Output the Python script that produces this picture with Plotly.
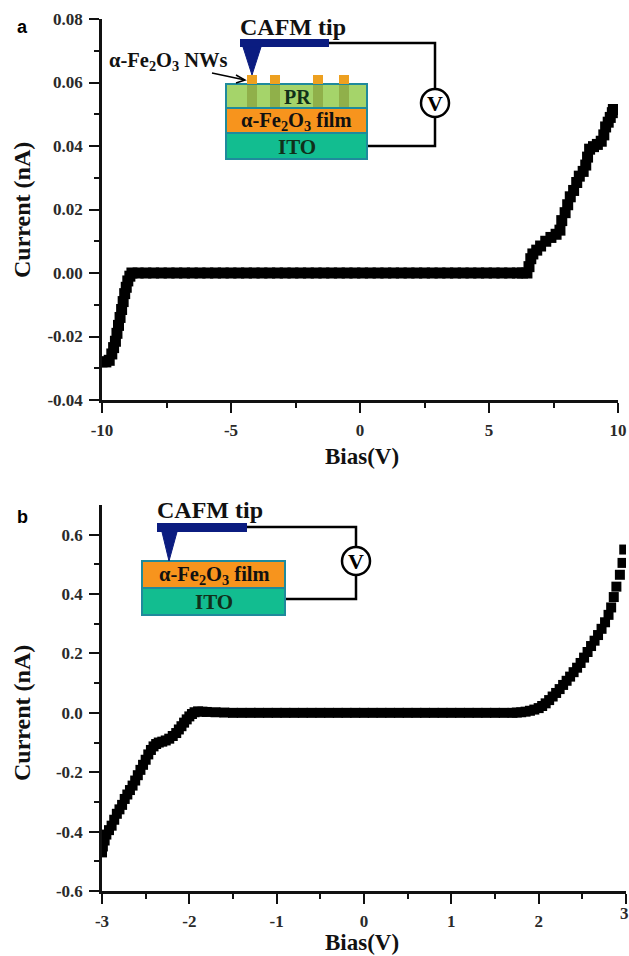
import plotly.graph_objects as go

W, H = 629, 956

# Panel a data
a_bias = [-10, -9.85, -9.72, -9.62, -9.55, -9.48, -9.42, -9.36, -9.3, -9.24, -9.18, -9.12, -9.06, -9.0, -8.92, -8.84,
          -8.6, -8.3, -8.0, -7.7, -7.4, -7.1, -6.8, -6.5, -6.2, -5.9, -5.6, -5.3, -5.0, -4.7, -4.4, -4.1, -3.8, -3.5,
          -3.2, -2.9, -2.6, -2.3, -2.0, -1.7, -1.4, -1.1, -0.8, -0.5, -0.2, 0.1, 0.4, 0.7, 1.0, 1.3, 1.6, 1.9, 2.2,
          2.5, 2.8, 3.1, 3.4, 3.7, 4.0, 4.3, 4.6, 4.9, 5.2, 5.5, 5.8, 6.1, 6.3, 6.47,
          6.55, 6.62, 6.7, 6.85, 7.0, 7.2, 7.4, 7.6, 7.75, 7.82, 7.95, 8.05, 8.15, 8.28, 8.4, 8.5, 8.65, 8.75, 8.82,
          8.9, 9.05, 9.2, 9.35, 9.45, 9.52, 9.62, 9.7, 9.78, 9.82]
a_current = [-.028, -.028, -.0275, -.0255, -.0235, -.0215, -.019, -.0165, -.014, -.0115, -.009, -.0065, -.0045, -.0025, -.001, 0,
             0, 0, 0, 0, 0, 0, 0, 0, 0, 0, 0, 0, 0, 0, 0, 0, 0, 0,
             0, 0, 0, 0, 0, 0, 0, 0, 0, 0, 0, 0, 0, 0, 0, 0, 0, 0, 0,
             0, 0, 0, 0, 0, 0, 0, 0, 0, 0, 0, 0, 0, 0, 0,
             .002, .0045, .006, .0072, .0085, .0100, .0112, .0122, .0135, .0165, .019, .0215, .024, .026, .0285, .0305, .032, .034, .0365,
             .039, .0398, .0405, .0415, .0435, .046, .0475, .049, .0505, .0515]

# Panel b data
b_bias = [-3.0, -2.99, -2.97, -2.95, -2.92, -2.89, -2.86, -2.83, -2.80, -2.77, -2.74, -2.71, -2.68, -2.65, -2.62, -2.59,
          -2.56, -2.53, -2.50, -2.47, -2.44, -2.41, -2.38, -2.35, -2.31, -2.27, -2.23, -2.19, -2.15, -2.12, -2.09, -2.06,
          -2.03, -2.0, -1.97, -1.94, -1.9, -1.85, -1.8,
          -1.7, -1.6, -1.5, -1.4, -1.3, -1.2, -1.1, -1.0, -0.9, -0.8, -0.7, -0.6, -0.5, -0.4, -0.3, -0.2, -0.1, 0.0,
          0.1, 0.2, 0.3, 0.4, 0.5, 0.6, 0.7, 0.8, 0.9, 1.0, 1.1, 1.2, 1.3, 1.4, 1.5, 1.6, 1.7,
          1.75, 1.8, 1.85, 1.9, 1.95, 2.0, 2.04, 2.08, 2.12, 2.16, 2.2, 2.24, 2.28, 2.32, 2.36, 2.4, 2.44, 2.48, 2.52,
          2.56, 2.6, 2.64, 2.68, 2.72, 2.76, 2.8, 2.83, 2.86, 2.89, 2.93, 2.96, 2.98]
b_current = [-.47, -.45, -.43, -.41, -.395, -.38, -.36, -.34, -.325, -.31, -.29, -.275, -.26, -.245, -.228, -.21,
             -.192, -.175, -.158, -.14, -.125, -.113, -.105, -.1, -.097, -.093, -.087, -.078, -.068, -.056, -.045, -.033,
             -.022, -.012, -.004, .002, .005, .004, .003,
             .002, .001, 0, 0, 0, 0, 0, 0, 0, 0, 0, 0, 0, 0, 0, 0, 0, 0,
             0, 0, 0, 0, 0, 0, 0, 0, 0, 0, 0, 0, 0, 0, 0, 0, 0,
             .001, .002, .004, .007, .011, .016, .023, .032, .043, .055, .067, .08, .094, .108, .122, .137, .152, .168, .186,
             .205, .225, .243, .262, .283, .305, .33, .355, .39, .425, .465, .505, .55]

A_XTICKS = [-10, -5, 0, 5, 10]
A_XLABELS = ["-10", "-5", "0", "5", "10"]
A_YTICKS = [-0.04, -0.02, 0, 0.02, 0.04, 0.06, 0.08]
A_YLABELS = ["-0.04", "-0.02", "0.00", "0.02", "0.04", "0.06", "0.08"]
B_XTICKS = [-3, -2, -1, 0, 1, 2, 3]
B_XLABELS = ["-3", "-2", "-1", "0", "1", "2", ""]
B_YTICKS = [-0.6, -0.4, -0.2, 0, 0.2, 0.4, 0.6]
B_YLABELS = ["-0.6", "-0.4", "-0.2", "0.0", "0.2", "0.4", "0.6"]

SERIF = "Liberation Serif"
INK = "#111111"
NAVY = "#0b1c80"
TEAL = "#1f8a9c"
PR_GREEN = "#a5d46a"
FILM = "#f7941d"
ITO = "#12bd90"


def px(x):
    return x / W


def py(y):
    return 1 - y / H


fig = go.Figure()
fig.add_trace(go.Scatter(x=a_bias, y=a_current, xaxis="x", yaxis="y", mode="markers",
                         marker=dict(symbol="square", size=11, color="#000000", line=dict(width=0)),
                         cliponaxis=True, showlegend=False))
fig.add_trace(go.Scatter(x=b_bias, y=b_current, xaxis="x2", yaxis="y2", mode="markers",
                         marker=dict(symbol="square", size=10, color="#000000", line=dict(width=0)),
                         cliponaxis=True, showlegend=False))
# empty trace that keeps a full-page pixel axis for the schematic insets and labels
fig.add_trace(go.Scatter(x=[None], y=[None], xaxis="x3", yaxis="y3", mode="markers", showlegend=False))

tickfont = dict(family=SERIF, size=17, color="#2a2a2a", weight="bold")


def axis(domain, rng, ticks, labels, minor, anchor):
    return dict(domain=domain, range=rng, anchor=anchor, tickmode="array", tickvals=ticks, ticktext=labels,
                ticks="outside", ticklen=10, tickwidth=2, tickcolor=INK, showline=True, linewidth=2.5,
                linecolor=INK, showgrid=False, zeroline=False, tickfont=tickfont, ticklabelstandoff=3,
                automargin=False,
                minor=dict(tickmode="array", tickvals=minor, ticks="outside", ticklen=5, tickwidth=2,
                           tickcolor=INK, showgrid=False))


layout_axes = dict(
    xaxis=axis([px(102), px(618)], [-10, 10], A_XTICKS, A_XLABELS, [-7.5, -2.5, 2.5, 7.5], "y"),
    yaxis=axis([py(400), py(19)], [-0.04, 0.08], A_YTICKS, A_YLABELS, [-0.03, -0.01, 0.01, 0.03, 0.05, 0.07], "x"),
    xaxis2=axis([px(102), px(626)], [-3, 3], B_XTICKS, B_XLABELS, [-2.5, -1.5, -0.5, 0.5, 1.5, 2.5], "y2"),
    yaxis2=axis([py(891), py(505)], [-0.6, 0.7], B_YTICKS, B_YLABELS, [-0.5, -0.3, -0.1, 0.1, 0.3, 0.5], "x2"),
    xaxis3=dict(domain=[0, 1], range=[0, W], anchor="y3", visible=False, fixedrange=True, automargin=False),
    yaxis3=dict(domain=[0, 1], range=[H, 0], anchor="x3", visible=False, fixedrange=True, automargin=False),
)

shapes = []
annotations = []


def rect(x0, y0, x1, y1, fill, line=None, lw=0):
    shapes.append(dict(type="rect", xref="x3", yref="y3", x0=x0, x1=x1, y0=y0, y1=y1,
                       fillcolor=fill, line=dict(color=line or fill, width=lw)))


def poly(points, fill=None, color="#000000", lw=2.5):
    d = "M" + " L".join(f"{x},{y}" for x, y in points)
    if fill:
        d += " Z"
    shapes.append(dict(type="path", xref="x3", yref="y3", path=d, fillcolor=fill or "rgba(0,0,0,0)",
                       line=dict(color=color, width=lw)))


def circle(cx, cy, r):
    shapes.append(dict(type="circle", xref="x3", yref="y3", x0=cx - r, x1=cx + r, y0=cy - r,
                       y1=cy + r, fillcolor="#ffffff", line=dict(color="#000000", width=2.5)))


def text(x, y, s, size, color="#111111", family=SERIF, rot=0):
    annotations.append(dict(xref="x3", yref="y3", x=x, y=y, text=s, showarrow=False,
                            xanchor="center", yanchor="middle", textangle=rot,
                            font=dict(family=family, size=size, color=color, weight="bold")))


# Inset a
poly([(329, 43), (435, 43), (435, 146), (367, 146)])
circle(435, 103, 14)
text(435, 103, "V", 22, "#000000")
rect(226, 84, 367, 108, PR_GREEN, TEAL, 2)
rect(226, 108, 367, 133, FILM, TEAL, 2)
rect(226, 133, 367, 159, ITO, TEAL, 2)
for x0, x1 in [(247, 257), (270, 280), (313, 323), (339, 349)]:
    rect(x0, 85, x1, 107, "#90b04a")
    rect(x0, 75, x1, 84, "#eda020")
rect(240, 39, 329, 47, NAVY)
poly([(243, 47), (261, 47), (252, 75)], fill=NAVY, color=NAVY, lw=1)
poly([(212, 73), (245, 80)], lw=1.5)
poly([(236, 75), (245, 80), (236, 83)], lw=1.5)
text(293, 27, "CAFM tip", 24)
text(168, 61, "α-Fe<sub>2</sub>O<sub>3</sub> NWs", 20.5)
text(297, 97, "PR", 20, "#10301a")
text(296, 121, "α-Fe<sub>2</sub>O<sub>3</sub> film", 20.5)
text(297, 147, "ITO", 21, "#10301a")

# Inset b
poly([(247, 527), (356, 527), (356, 599), (285, 599)])
circle(356, 561, 14)
text(356, 561, "V", 22, "#000000")
rect(142, 561, 285, 588, FILM, TEAL, 2)
rect(142, 588, 285, 615, ITO, TEAL, 2)
rect(157, 523, 247, 532, NAVY)
poly([(162, 532), (177, 532), (169, 561)], fill=NAVY, color=NAVY, lw=1)
text(210, 510, "CAFM tip", 24)
text(214, 575, "α-Fe<sub>2</sub>O<sub>3</sub> film", 20.5)
text(214, 602, "ITO", 21, "#10301a")

# Titles and panel letters
text(362, 456, "Bias(V)", 23)
text(362, 942, "Bias(V)", 23)
text(22, 210, "Current (nA)", 24, rot=-90)
text(22, 713, "Current (nA)", 24, rot=-90)
text(22, 27, "a", 18, "#000000", "Liberation Sans")
text(22, 517, "b", 18, "#000000", "Liberation Sans")
# last tick label of panel b sits against the page edge, where the axis would drop it
text(624, 913, "3", 17, "#2a2a2a")

fig.update_layout(width=W, height=H, autosize=False, margin=dict(l=0, r=0, t=0, b=0, autoexpand=False),
                  paper_bgcolor="#ffffff", plot_bgcolor="rgba(0,0,0,0)", showlegend=False,
                  shapes=shapes, annotations=annotations, **layout_axes)

fig.write_html("out.html", config={"displayModeBar": False},
               post_script="document.body.style.margin='0';document.body.style.overflow='hidden';")
